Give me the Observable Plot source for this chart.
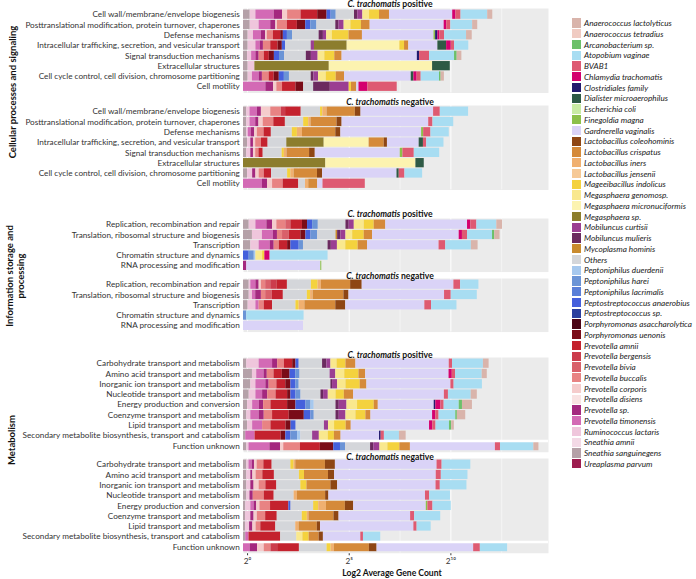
<!DOCTYPE html>
<html><head><meta charset="utf-8">
<script src="https://cdn.jsdelivr.net/npm/d3@7"></script>
<script src="https://cdn.jsdelivr.net/npm/@observablehq/plot@0.6"></script>
<style>
body{margin:0;background:#fff;font-family:Lato,"Open Sans",sans-serif;}
#root{position:relative;width:696px;height:579px;overflow:hidden;background:#fff}
.abs{position:absolute;white-space:nowrap}
.ttl{font-weight:bold;font-size:8.6px;line-height:12px;text-align:center;color:#111}
.grp{font-weight:bold;font-size:9.5px;line-height:11px;color:#111;transform:translate(-50%,-50%) rotate(-90deg);text-align:center}
.lg{font-style:italic;font-size:8.2px;line-height:10px;color:#1a1a1a}
</style></head>
<body><div id="root"></div>
<script>
// ---------- species (legend order) ----------
const speciesNames = ["Anaerococcus lactolyticus","Anaerococcus tetradius","Arcanobacterium sp.","Atopobium vaginae","BVAB1","Chlamydia trachomatis","Clostridiales family","Dialister microaerophilus","Escherichia coli","Finegoldia magna","Gardnerella vaginalis","Lactobacillus coleohominis","Lactobacillus crispatus","Lactobacillus iners","Lactobacillus jensenii","Mageeibacillus indolicus","Megasphaera genomosp.","Megasphaera micronuciformis","Megasphaera sp.","Mobiluncus curtisii","Mobiluncus mulieris","Mycoplasma hominis","Others","Peptoniphilus duerdenii","Peptoniphilus harei","Peptoniphilus lacrimalis","Peptostreptococcus anaerobius","Peptostreptococcus sp.","Porphyromonas asaccharolytica","Porphyromonas uenonis","Prevotella amnii","Prevotella bergensis","Prevotella bivia","Prevotella buccalis","Prevotella corporis","Prevotella disiens","Prevotella sp.","Prevotella timonensis","Ruminococcus lactaris","Sneathia amnii","Sneathia sanguinegens","Ureaplasma parvum"];
const speciesCodes = ["Al","At","Ar","Av","BV","Ct","Cf","Dm","Ec","Fm","Gv","Lco","Lcr","Lin","Lje","Min","Mge","Mmi","Msp","Mcu","Mmu","Mho","O","Pdue","Phar","Plac","Psan","Pssp","Pas","Pue","Pam","Pbe","Pbi","Pbu","Pco","Pdi","Psp","Pt","Rl","Sa","Ss","Up"];
const speciesColors = ["#d9b4ab","#f0cbc2","#6cc06a","#a8ddf2","#de5a72","#d4006e","#231a6e","#2e5a45","#c9eba4","#8cc04a","#dad3f7","#8e4614","#d58a3a","#f0b070","#f6c996","#f4d23e","#f9e88e","#fcf3b0","#8c7d2d","#9b3e92","#6b2a5f","#c98b2e","#d4d6da","#a6c8ee","#6b94d6","#5a7fd8","#4560dc","#2a3f9e","#4b0516","#7a0c18","#c4222e","#cc3c4c","#d9606a","#e88383","#f5cccc","#f9e3e3","#a4287f","#d36ab5","#efc6dc","#f3d9e6","#b5a1a8","#9d1d4f"];

// ---------- categories ----------
const cellularRows = ["Cell wall/membrane/envelope biogenesis","Posttranslational modification, protein turnover, chaperones","Defense mechanisms","Intracellular trafficking, secretion, and vesicular transport","Signal transduction mechanisms","Extracellular structures","Cell cycle control, cell division, chromosome partitioning","Cell motility"];
const infoRows = ["Replication, recombination and repair","Translation, ribosomal structure and biogenesis","Transcription","Chromatin structure and dynamics","RNA processing and modification"];
const metabolismRows = ["Carbohydrate transport and metabolism","Amino acid transport and metabolism","Inorganic ion transport and metabolism","Nucleotide transport and metabolism","Energy production and conversion","Coenzyme transport and metabolism","Lipid transport and metabolism","Secondary metabolite biosynthesis, transport and catabolism","Function unknown"];

// ---------- values: stacked log2 contributions per species ----------
const cellularPositive = [
 {Ss:.33,Rl:.28,Pt:.9,Psp:.41,Pco:.25,Pbu:.66,Pam:.82,Pue:.46,Psan:.2,Phar:.25,O:.9,Mmu:.16,Mcu:.25,Mge:.33,Min:.49,Lcr:.49,Gv:3.11,Ct:.16,BV:.25,Av:1.31,Al:.25},
 {Ss:.33,Rl:.44,Pt:.57,Psp:.25,Pco:.08,Pbu:.49,Pam:.49,Pue:.41,Psan:.25,Phar:.3,O:.93,Mmu:.16,Mcu:.25,Mge:.33,Min:.52,Lcr:.43,Gv:3.64,Ct:.13,BV:.2,Av:1.07,Al:.25},
 {Ss:.23,Rl:.26,Pt:.39,Psp:.21,Pco:.08,Pbu:.3,Pam:.36,Pue:.13,Psan:.2,Phar:.25,O:1.31,Mmu:.21,Mcu:.16,Mge:.28,Min:.82,Lcr:.66,Gv:3.52,Fm:.08,Cf:.11,Ct:.1,BV:.23,Av:1.08,Al:.28},
 {Ss:.23,Rl:.38,Pt:.21,Psp:.16,Pbu:.36,Pam:.36,Pue:.21,Psan:.16,O:1.26,Mcu:.16,Msp:1.61,Mmi:2.59,Min:.23,Lcr:.21,Gv:1.43,Dm:.43,Ct:.23,BV:.16,Av:.7},
 {Ss:.2,Rl:.2,Pt:.21,Psp:.16,Pbu:.25,Pam:.25,Pue:.25,Psan:.25,Phar:.25,O:1.07,Mmu:.25,Mcu:.33,Mge:.33,Min:.49,Lcr:.36,Gv:3.7,Cf:.11,BV:.49,Av:1.23,Ar:.13,Al:.23},
 {Ss:.23,Rl:.33,Msp:3.66,Mmi:5.08,Dm:.87},
 {Ss:.23,Rl:.21,Pt:.33,Psp:.16,Pbu:.33,Pam:.25,Pue:.25,Psan:.25,Phar:.25,O:1.07,Mmu:.13,Mcu:.23,Mge:.38,Min:.49,Lcr:.41,Gv:3.28,Dm:.13,Ct:.16,BV:.2,Av:.9,Ar:.08,Al:.16},
 {Pt:1.1,Psp:.38,Pco:.16,Pbu:.28,Pam:.66,Pue:.38,O:.49,Mmu:.82,Mcu:.93,Min:.11,Lcr:.26,Gv:.11,Ct:.44,BV:1.44}
];
const cellularNegative = [
 {Ss:.16,Rl:.16,Pt:.36,Psp:.2,Pco:.46,Pbu:.52,Pbe:.21,Pam:.77,O:.95,Min:.11,Lin:.21,Lcr:1.39,Lco:.28,Gv:3.57,BV:.33,Av:1.39},
 {Ss:.16,Rl:.16,Pt:.28,Psp:.16,Pco:.21,Pbu:.52,Pam:.57,O:.9,Min:.25,Lin:.11,Lcr:1.28,Lco:.25,Gv:4.26,BV:.21,Av:1.02},
 {Ss:.16,Rl:.07,Pt:.16,Psp:.16,Pco:.13,Pbu:.33,Pam:.36,O:1.03,Min:.25,Lin:.25,Lcr:1.64,Lco:.25,Gv:3.97,Fm:.1,BV:.36,Av:.9},
 {Ss:.2,Rl:.16,Psp:.13,Pco:.11,Pbu:.28,Pam:.33,O:.92,Msp:1.84,Mmi:2.21,Lcr:.74,Lco:.16,Gv:1.56,Dm:.21,BV:.16,Av:.85},
 {Ss:.16,Rl:.2,Psp:.13,Pco:.11,Pbu:.16,Pam:.21,O:.93,Min:.11,Lin:.13,Lcr:1.11,Lco:.28,Gv:4.18,Fm:.13,BV:.56,Av:1.25},
 {Msp:4.05,Mmi:4.43,Dm:.41},
 {Ss:.2,Rl:.25,Psp:.16,Pco:.16,Pbu:.25,Pam:.36,O:.79,Min:.16,Lin:.16,Lcr:1.15,Lco:.25,Gv:3.66,Dm:.11,BV:.28,Av:.87},
 {Pt:.93,Psp:.25,Pco:.25,Pbu:.52,Pam:.77,O:.33,Lin:.16,Lcr:.44,Gv:.26,BV:2.08}
];
const infoPositive = [
 {Ss:.28,Rl:.33,Pt:.54,Psp:.28,Pco:.21,Pbu:.44,Pbi:.25,Pam:.57,Pue:.25,Psan:.25,Phar:.28,O:1.36,Mmu:.16,Mcu:.25,Mge:.49,Min:.49,Lcr:.57,Gv:4.02,Ct:.16,BV:.3,Av:.98,Al:.28},
 {Ss:.44,Rl:.49,Pt:.54,Psp:.2,Pbu:.25,Pbi:.33,Pam:.57,Pue:.25,Psan:.25,Phar:.33,O:.9,Mho:.08,Mmu:.16,Mcu:.25,Mge:.33,Min:.57,Lcr:.41,Gv:4.26,Ct:.16,BV:.25,Av:1.23,Ar:.11,Al:.26},
 {Ss:.36,Rl:.41,Pt:.54,Psp:.2,Pbu:.25,Pam:.41,Pue:.16,Psan:.41,Phar:.21,O:1.21,Mmu:.16,Mcu:.3,Mge:.41,Min:.61,Lcr:.46,Gv:3.52,BV:.33,Av:1.26,Al:.33},
 {Psan:.28,Phar:.25,Pdue:.08,Mge:.33,Min:.11,Ct:.26,Av:2.85},
 {Psp:.16,Gv:3.64,Fm:.05}
];
const infoNegative = [
 {Ss:.28,Rl:.08,Pt:.25,Psp:.16,Pco:.11,Pbu:.21,Pbi:.25,Pbe:.3,Pam:.52,O:1.18,Min:.33,Lin:.16,Lcr:1.44,Lco:.57,Gv:4.51,BV:.33,Av:.9},
 {Ss:.28,Rl:.16,Pt:.16,Psp:.28,Pbu:.21,Pbi:.33,Pam:.54,O:1.18,Min:.16,Lin:.13,Lcr:1.51,Lco:.25,Gv:4.7,BV:.33,Av:1.28},
 {Ss:.23,Rl:.38,Pt:.16,Pbu:.25,Pam:.41,O:1.15,Min:.16,Lin:.28,Lcr:1.52,Lco:.49,Gv:3.89,BV:.33,Av:1.25},
 {Phar:.16,Av:2.82},
 {Gv:2.95}
];
const metabolismPositive = [
 {Ss:.16,Rl:.61,Pt:.66,Psp:.25,Pbu:.33,Pam:.41,Pue:.16,Psan:.16,O:1.15,Mmu:.21,Mcu:.2,Mge:.3,Min:.44,Lcr:.49,Gv:4.59,BV:.16,Av:1.52,Al:.28},
 {Ss:.44,Rl:.21,Pt:.36,Psp:.16,Pbu:.33,Pam:.41,Pue:.38,Psan:.28,Phar:.21,O:1.48,Mcu:.28,Mge:.44,Min:.7,Lcr:.33,Gv:4.1,Ct:.16,BV:.16,Av:1.31,Al:.25},
 {Ss:.36,Rl:.25,Pt:.49,Psp:.16,Pbu:.38,Pam:.44,Pue:.25,Psan:.25,Phar:.16,O:1.56,Mmu:.08,Mcu:.25,Mge:.41,Min:.7,Lcr:.33,Gv:4.13,BV:.16,Av:1.39},
 {Ss:.28,Rl:.33,Pt:.33,Psp:.25,Pbu:.41,Pam:.57,Pue:.16,Psan:.25,Phar:.25,O:.98,Mmu:.13,Mcu:.23,Mge:.38,Min:.41,Lcr:.46,Gv:4.46,BV:.2,Av:1.12,Al:.3},
 {Ss:.2,Rl:.25,Pt:.33,Psp:.21,Pbu:.36,Pam:.82,Pue:.41,Psan:.49,Phar:.25,Pdue:.16,O:1.07,Mmu:.16,Mcu:.38,Mge:.52,Min:.82,Lcr:.2,Gv:2.75,Cf:.08,Ct:.25,BV:.16,Av:.74,Ar:.16,Al:.49},
 {Ss:.16,Rl:.2,Pt:.41,Psp:.25,Pbu:.41,Pam:.82,Pue:.74,Psan:.33,Phar:.16,O:1.07,Mmu:.16,Mcu:.33,Mge:.49,Min:.49,Lcr:.25,Gv:3.03,Ct:.16,BV:.16,Av:.82,Ar:.08,Al:.41},
 {Ss:.2,Rl:.25,Pt:.49,Pbu:.41,Pam:.74,Pue:.25,Psan:.25,O:1.39,Mcu:.2,Mge:.3,Min:.57,Lcr:.25,Gv:3.85,Ct:.16,BV:.16,Av:.66,Ar:.11,Al:.13},
 {Ss:.11,Pt:.46,Pam:1.28,Pue:.23,Psan:.25,Phar:.33,Pdue:.16,O:.58,Mcu:.33,Mge:.44,Min:.3,Lcr:.33,Gv:1.89,Cf:.08,BV:.16,Av:.74,Al:.33},
 {Ss:.16,Rl:.11,Pt:1.03,Psp:.52,Pco:.16,Pbu:.82,Pam:.98,Pue:.66,Psan:.33,Phar:.25,O:1.23,Mmu:.16,Mcu:.3,Mge:.39,Min:.59,Lcr:.52,Gv:4.18,BV:.25,Av:1.64,Al:.25}
];
const metabolismNegative = [
 {Ss:.16,Rl:.11,Pt:.16,Psp:.11,Pco:.13,Pbu:.33,Pam:.41,O:.92,Min:.16,Lin:.08,Lcr:1.46,Lco:.49,Gv:5.0,BV:.25,Av:1.41},
 {Ss:.16,Rl:.2,Psp:.1,Pco:.16,Pbu:.33,Pam:.57,O:1.23,Min:.25,Lcr:1.18,Lco:.3,Gv:5.0,BV:.25,Av:1.31},
 {Ss:.16,Rl:.2,Psp:.16,Pco:.25,Pbu:.33,Pam:.54,O:1.18,Min:.3,Lcr:1.18,Lco:.33,Gv:4.84,BV:.21,Av:1.31},
 {Ss:.16,Rl:.16,Psp:.16,Pbu:.54,Pam:.49,O:.98,Lin:.16,Lcr:1.39,Lco:.16,Gv:4.75,BV:.21,Av:1.02},
 {Ss:.11,Rl:.25,Pt:.16,Psp:.13,Pco:.16,Pbu:.52,Pam:.9,Psan:.11,O:1.11,Min:.25,Lin:.38,Lcr:.93,Lco:.41,Gv:3.57,Fm:.08,BV:.25,Av:.9},
 {Ss:.1,Rl:.26,Psp:.16,Pco:.16,Pbu:.41,Pam:.57,O:1.23,Min:.25,Lin:.08,Lcr:1.23,Lco:.25,Gv:3.52,BV:.2,Av:1.28},
 {Ss:.1,Rl:.2,Psp:.16,Pco:.16,Pbu:.23,Pam:.74,O:.98,Lin:.16,Lcr:.9,Lco:.16,Gv:4.59,BV:.16,Av:.69},
 {Ss:.11,Pt:.16,Pam:1.56,O:.79,Mge:.3,Min:.31,Lcr:.49,Lco:.21,Gv:1.84,BV:.13,Av:.85},
 {Pt:.33,Psp:.36,Pco:.33,Pbu:.33,Pbe:.33,Pam:1.07,O:1.36,Min:.2,Lin:.16,Lcr:1.72,Lco:.38,Gv:4.75,BV:.33,Av:1.34}
];
const xTicks = [0,5,10];
const xTickLabels = ["2⁰","2⁵","2¹⁰"];

// ---------- layout ----------
const STEP = 10.3, BASE = -0.2, XMAX = 14.8;
const root = document.getElementById("root");
const panels = [
 {rows:cellularRows, data:cellularPositive, status:"positive", c0:14, ty:4},
 {rows:cellularRows, data:cellularNegative, status:"negative", c0:111, ty:101.5},
 {rows:infoRows, data:infoPositive, status:"positive", c0:224, ty:214},
 {rows:infoRows, data:infoNegative, status:"negative", c0:284, ty:275.5},
 {rows:metabolismRows, data:metabolismPositive, status:"positive", c0:363.5, ty:355},
 {rows:metabolismRows, data:metabolismNegative, status:"negative", c0:464, ty:457, last:true}
];
function stackRows(rows, data){
  const out = [];
  rows.forEach((r,i)=>{
    const entries = Object.entries(data[i]).sort((a,b)=>speciesCodes.indexOf(b[0])-speciesCodes.indexOf(a[0]));
    let acc = BASE;
    for (const [sp,v] of entries){ out.push({row:r, sp, x1:acc, x2:acc+v}); acc += v; }
  });
  return out;
}
function add(el, css){ const d=document.createElement("div"); d.className="abs "+(css||""); root.appendChild(d); if(el) d.appendChild(el); return d; }

panels.forEach(p=>{
  const n = p.rows.length;
  const mb = p.last ? 17 : 0;
  const h = (n+0.2)*STEP + mb;
  const hasFU = p.rows.includes("Function unknown");
  const chart = Plot.plot({
    width:548, height:h, marginLeft:243, marginRight:0, marginTop:0, marginBottom:mb,
    style:{fontFamily:"Lato, sans-serif", fontSize:"8.2px", color:"#333", background:"transparent", overflow:"visible"},
    x:{domain:[BASE,XMAX], ticks:xTicks, tickFormat:d=>xTickLabels[xTicks.indexOf(d)], label:null, axis:p.last?"bottom":null, tickSize:2.5, tickPadding:2},
    y:{domain:p.rows, paddingInner:0.1, paddingOuter:0.15, round:false, label:null, tickSize:0, tickPadding:3.7},
    color:{domain:speciesCodes, range:speciesColors},
    marks:[
      Plot.frame({fill:"#ebebeb", stroke:"none"}),
      Plot.ruleX([2.5,7.5,12.5],{stroke:"#fff", strokeWidth:0.5}),
      Plot.ruleX(xTicks,{stroke:"#fff", strokeWidth:1}),
      Plot.barX(stackRows(p.rows,p.data),{x1:"x1", x2:"x2", y:"row", fill:"sp"}),
      ...(hasFU ? [Plot.ruleY(["Function unknown"],{dy:-STEP/2, stroke:"#fff", strokeWidth:2.5})] : [])
    ]
  });
  const d = add(chart);
  d.style.left = "0px"; d.style.top = (p.c0 - 0.6*STEP) + "px";
  const t = add(null, "ttl");
  t.innerHTML = "<i>C. trachomatis</i> " + p.status;
  t.style.left = "290px"; t.style.width = "200px"; t.style.top = (p.ty - 6) + "px";
});

// axis title
const ax = add(null, "ttl");
ax.textContent = "Log2 Average Gene Count";
ax.style.left = "292px"; ax.style.width = "200px"; ax.style.top = (573-6)+"px";

// group labels
const groups = [
 {text:"Cellular processes and signaling", x:11.5, y:92},
 {text:"Information storage and<br>processing", x:14.5, y:276},
 {text:"Metabolism", x:11, y:440}
];
groups.forEach(g=>{ const e=add(null,"grp"); e.innerHTML=g.text; e.style.left=g.x+"px"; e.style.top=g.y+"px"; });

// legend
speciesNames.forEach((name,i)=>{
  const yc = 23 + i*10.75;
  const sw = add(null,""); sw.style.left="572px"; sw.style.top=(yc-4.6)+"px"; sw.style.width="9px"; sw.style.height="9.2px"; sw.style.background=speciesColors[i];
  const tx = add(null,"lg"); tx.textContent=name; tx.style.left="584px"; tx.style.top=(yc-5)+"px";
});
</script></body></html>
